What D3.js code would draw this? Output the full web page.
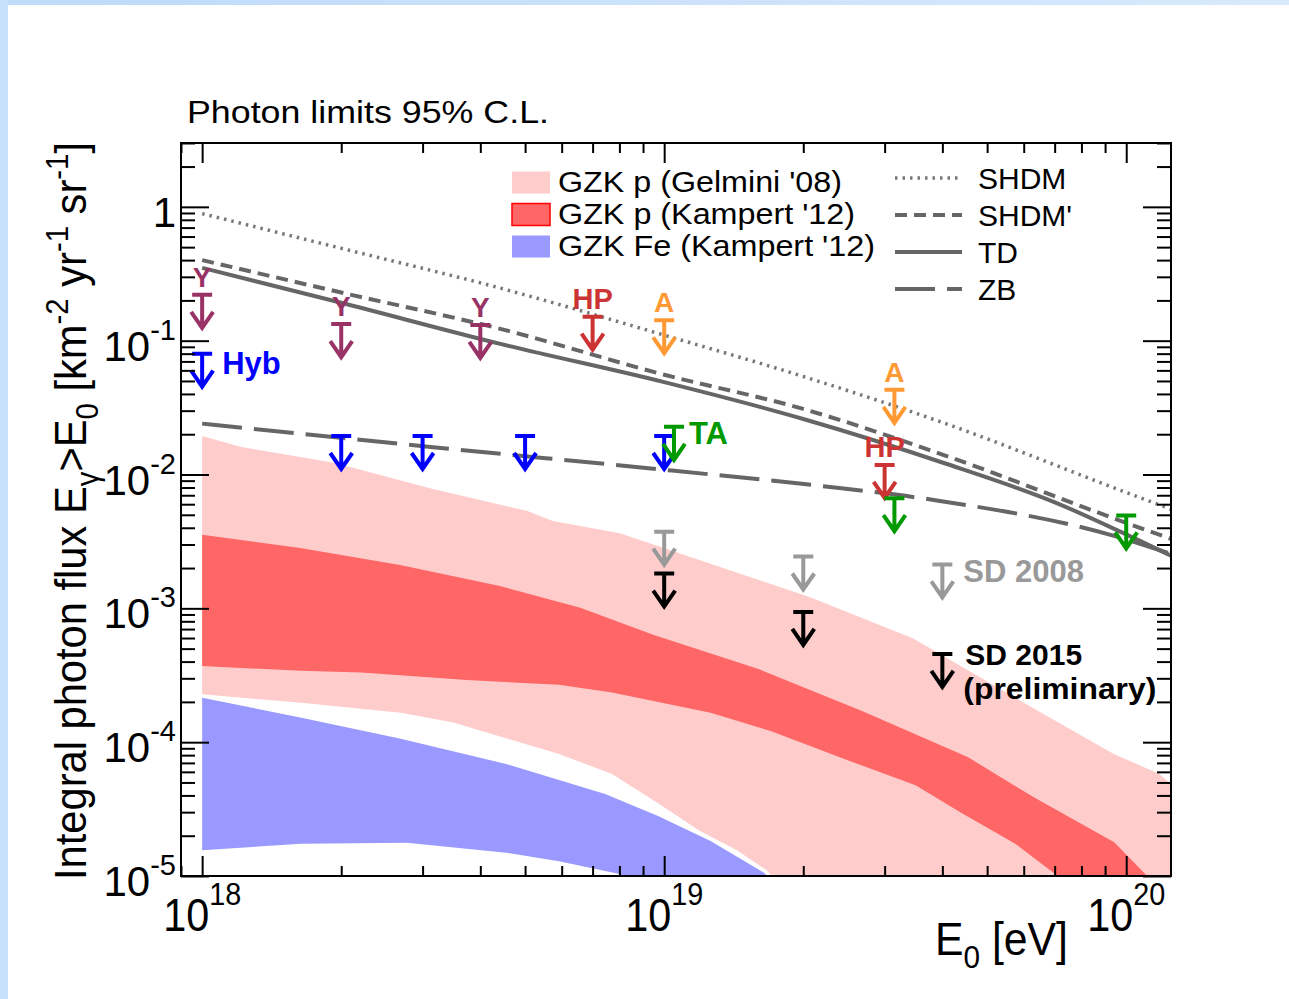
<!DOCTYPE html>
<html>
<head>
<meta charset="utf-8">
<script src="https://cdn.jsdelivr.net/npm/d3@7"></script>
<style>
  html, body { margin: 0; padding: 0; background: #fff; }
  svg { display: block; }
  text { font-family: "Liberation Sans", Arial, Helvetica, sans-serif; }
</style>
</head>
<body>
<svg id="chart" width="1289" height="999"></svg>
<script>
// Energies in eV, integral fluxes in km^-2 yr^-1 sr^-1

// GZK photon expectations (bands: upper and lower edges)
const gelminiUpperE = [1e18, 1.21e18, 1.92e18, 3.16e18, 5.04e18, 5.74e18, 8.02e18, 2.07e19, 3.46e19, 6.84e19, 9.4e19, 1.18e20, 1.25e20];
const gelminiUpperF = [1.94e-2, 1.61e-2, 1.23e-2, 7.8e-3, 5.35e-3, 4.5e-3, 3.64e-3, 1.21e-3, 5.94e-4, 1.52e-4, 8.17e-5, 5.78e-5, 4.87e-5];
const gelminiLowerE = [1e18, 1.64e18, 2.69e18, 3.5e18, 5.92e18, 7.71e18, 9.7e18, 1.19e19, 1.44e19, 1.67e19, 1.97e19, 1.25e20];
const gelminiLowerF = [2.28e-4, 1.97e-4, 1.66e-4, 1.40e-4, 8.17e-5, 5.78e-5, 3.49e-5, 2.19e-5, 1.55e-5, 1.10e-5, 5.5e-6, 1e-6];

const kampertPUpperE = [1e18, 1.63e18, 2.68e18, 4.41e18, 6.58e18, 9.5e18, 1.6e19, 2.68e19, 4.55e19, 6.31e19, 9.42e19, 1.11e20, 1.21e20];
const kampertPUpperF = [3.54e-3, 2.83e-3, 2.11e-3, 1.47e-3, 1.01e-3, 6.33e-4, 3.52e-4, 1.71e-4, 7.7e-5, 3.87e-5, 1.79e-5, 1e-5, 6e-6];
const kampertPLowerE = [1e18, 1.64e18, 2.21e18, 3.74e18, 5.92e18, 7.71e18, 1.26e19, 1.70e19, 2.52e19, 3.5e19, 4.41e19, 5.74e19, 6.98e19, 7.55e19];
const kampertPLowerF = [3.71e-4, 3.41e-4, 3.31e-4, 2.91e-4, 2.68e-4, 2.35e-4, 1.66e-4, 1.21e-4, 7.24e-5, 4.76e-5, 2.94e-5, 1.75e-5, 1.05e-5, 6.5e-6];

const kampertFeUpperE = [1e18, 1.64e18, 2.69e18, 4.55e18, 7.45e18, 9.7e18, 1.26e19, 1.65e19, 1.78e19];
const kampertFeUpperF = [2.15e-4, 1.52e-4, 1.06e-4, 6.87e-5, 4.10e-5, 2.81e-5, 1.83e-5, 1.05e-5, 7.1e-6];
const kampertFeLowerE = [1e18, 1.64e18, 2.77e18, 4.55e18, 5.92e18, 7.96e18, 9.3e18];
const kampertFeLowerF = [1.56e-5, 1.74e-5, 1.77e-5, 1.49e-5, 1.29e-5, 1.04e-5, 7.1e-6];

// Top-down model predictions
const shdmE = [1e18, 2e18, 4.4e18, 1e19, 2e19, 4e19, 1e20, 1.25e20];
const shdmF = [0.89, 0.49, 0.248, 0.11, 0.054, 0.0245, 0.00734, 0.0055];
const shdm2E = [1e18, 2e18, 4.4e18, 1e19, 2e19, 4e19, 1e20, 1.25e20];
const shdm2F = [0.40, 0.229, 0.123, 0.0557, 0.0309, 0.0141, 0.00435, 0.0033];
const tdE = [1e18, 2e18, 4.42e18, 1e19, 2e19, 4e19, 7.03e19, 9.84e19, 1.25e20];
const tdF = [0.35, 0.192, 0.0946, 0.049, 0.026, 0.0123, 0.00617, 0.00366, 0.00247];
const zbE = [1e18, 3.16e18, 1.04e19, 2.17e19, 3.95e19, 9.5e19, 1.25e20];
const zbF = [0.024, 0.016, 0.0107, 0.00824, 0.00635, 0.00345, 0.00255];

// Upper limits (95% C.L.)
const yakutskE = [1e18, 2e18, 4e18];
const yakutskLim = [0.22, 0.133, 0.131];
const hybridE = [1e18, 2e18, 3e18, 5e18, 1e19];
const hybridLim = [0.080, 0.0194, 0.0194, 0.0194, 0.0194];
const haverahE = [7e18, 3e19];
const haverahLim = [0.151, 0.0118];
const agasaE = [1e19, 3.15e19];
const agasaLim = [0.142, 0.0429];
const taE = [1.05e19, 3.15e19, 1e20];
const taLim = [0.0227, 0.00665, 0.00495];
const sd2008E = [1e19, 2e19, 4e19];
const sd2008Lim = [3.74e-3, 2.44e-3, 2.13e-3];
const sd2015E = [1e19, 2e19, 4e19];
const sd2015Lim = [1.82e-3, 9.4e-4, 4.56e-4];

// Axis tick labels (exponents of the major ticks)
const xExponents = [18, 19, 20];
const yExponents = [0, -1, -2, -3, -4, -5];

// Legend entries
const bandNames = ["GZK p (Gelmini '08)", "GZK p (Kampert '12)", "GZK Fe (Kampert '12)"];
const lineNames = ["SHDM", "SHDM'", "TD", "ZB"];

// ---------------------------------------------------------------
const svg = d3.select("#chart");
const L = 181, R = 1171, T = 143, B = 876;

const x = d3.scaleLog().domain([9e17, 1.25e20]).range([L, R]);
const y = d3.scaleLog().domain([1e-5, 3]).range([B, T]);

// Page decoration: light blue strips along the top and left edge
const defs = svg.append("defs");
const grad = defs.append("linearGradient").attr("id", "topStrip");
grad.append("stop").attr("offset", "0%").attr("stop-color", "#bedbf9");
grad.append("stop").attr("offset", "100%").attr("stop-color", "#d8e9fc");
svg.append("rect").attr("x", 0).attr("y", 0).attr("width", 1289).attr("height", 5).attr("fill", "url(#topStrip)");
svg.append("rect").attr("x", 0).attr("y", 0).attr("width", 8).attr("height", 999).attr("fill", "#c6e0fb");

defs.append("clipPath").attr("id", "plotClip")
  .append("rect").attr("x", L).attr("y", T).attr("width", R - L).attr("height", B - T);

const plot = svg.append("g").attr("clip-path", "url(#plotClip)");

const zip = (a, b) => a.map((v, i) => [v, b[i]]);
const poly = d3.line().x(d => x(d[0])).y(d => y(d[1]));
const smooth = d3.line().x(d => x(d[0])).y(d => y(d[1])).curve(d3.curveMonotoneX);

function band(upE, upF, loE, loF, fill) {
  const pts = zip(upE, upF).concat(zip(loE, loF).reverse());
  plot.append("path").attr("d", poly(pts) + "Z").attr("fill", fill).attr("stroke", "none");
}
band(gelminiUpperE, gelminiUpperF, gelminiLowerE, gelminiLowerF, "#ffcccc");
band(kampertPUpperE, kampertPUpperF, kampertPLowerE, kampertPLowerF, "#ff6666");
band(kampertFeUpperE, kampertFeUpperF, kampertFeLowerE, kampertFeLowerF, "#9999ff");

// Model curves
const lineStyles = [
  { E: shdmE, F: shdmF, dash: "2.5 5", w: 3.5, c: "#777777" },
  { E: shdm2E, F: shdm2F, dash: "12 7", w: 4, c: "#666666" },
  { E: tdE, F: tdF, dash: null, w: 4, c: "#666666" },
  { E: zbE, F: zbF, dash: "40 12", w: 4, c: "#666666" }
];
lineStyles.forEach(s => {
  plot.append("path").attr("d", smooth(zip(s.E, s.F)))
    .attr("fill", "none").attr("stroke", s.c).attr("stroke-width", s.w)
    .attr("stroke-dasharray", s.dash);
});

// Upper-limit arrows
function limits(E, lim, color) {
  const g = svg.append("g").attr("stroke", color).attr("stroke-width", 4)
    .attr("fill", "none").attr("stroke-linejoin", "miter");
  E.forEach((e, i) => {
    const cx = x(e), cy = y(lim[i]), tip = cy + 33;
    g.append("path").attr("d",
      `M${cx - 10},${cy}H${cx + 10}M${cx},${cy}V${tip - 1}M${cx - 11},${tip - 16}L${cx},${tip}L${cx + 11},${tip - 16}`);
  });
}
function tagAbove(E, lim, label, color, size) {
  E.forEach((e, i) => {
    svg.append("text").attr("x", x(e)).attr("y", y(lim[i]) - 8)
      .attr("text-anchor", "middle").attr("font-weight", "bold")
      .attr("font-size", size).attr("fill", color).text(label);
  });
}

limits(sd2008E, sd2008Lim, "#999999");
limits(sd2015E, sd2015Lim, "#000000");
limits(yakutskE, yakutskLim, "#993366");
limits(hybridE, hybridLim, "#0000ff");
limits(haverahE, haverahLim, "#cc3333");
limits(agasaE, agasaLim, "#ff9933");
limits(taE, taLim, "#009900");

tagAbove(yakutskE, yakutskLim, "Y", "#993366", 28);
tagAbove(haverahE, haverahLim, "HP", "#cc3333", 29);
tagAbove(agasaE, agasaLim, "A", "#ff9933", 28);

function tagRight(e, f, dx, dy, label, color) {
  return svg.append("text").attr("x", x(e) + dx).attr("y", y(f) + dy)
    .attr("font-weight", "bold").attr("font-size", 31).attr("fill", color).text(label);
}
tagRight(hybridE[0], hybridLim[0], 20, 20, "Hyb", "#0000ff");
tagRight(taE[0], taLim[0], 15, 17, "TA", "#009900");
tagRight(sd2008E[2], sd2008Lim[2], 21, 18, "SD 2008", "#999999");

// Two-line tag for the 2015 surface-detector limits
const sd15x = x(sd2015E[2]), sd15y = y(sd2015Lim[2]);
svg.append("text").attr("x", sd15x + 23).attr("y", sd15y + 11)
  .attr("font-weight", "bold").attr("font-size", 30).attr("fill", "#000").text("SD 2015");
svg.append("text").attr("x", sd15x + 21).attr("y", sd15y + 45)
  .attr("font-weight", "bold").attr("font-size", 30).attr("fill", "#000")
  .attr("textLength", 193).attr("lengthAdjust", "spacingAndGlyphs").text("(preliminary)");

// Axes: major and minor ticks on all four sides, pointing inward
const xMajor = xExponents.map(p => Math.pow(10, p));
const xMinor = x.ticks().filter(v => Math.abs(Math.log10(v) - Math.round(Math.log10(v))) > 1e-6);
const yMajor = yExponents.map(p => Math.pow(10, p));
const yMinor = y.ticks().filter(v => Math.abs(Math.log10(v) - Math.round(Math.log10(v))) > 1e-6);

function axisG(axis, tx, ty) {
  const g = svg.append("g").attr("transform", `translate(${tx},${ty})`).call(axis);
  g.select(".domain").remove();
  g.selectAll("line").attr("stroke", "#000").attr("stroke-width", 2);
  g.selectAll("text").remove();
}
axisG(d3.axisBottom(x).tickValues(xMajor).tickSize(-20).tickFormat(""), 0, B);
axisG(d3.axisBottom(x).tickValues(xMinor).tickSize(-10).tickFormat(""), 0, B);
axisG(d3.axisTop(x).tickValues(xMajor).tickSize(-20).tickFormat(""), 0, T);
axisG(d3.axisTop(x).tickValues(xMinor).tickSize(-10).tickFormat(""), 0, T);
axisG(d3.axisLeft(y).tickValues(yMajor).tickSize(-28).tickFormat(""), L, 0);
axisG(d3.axisLeft(y).tickValues(yMinor).tickSize(-14).tickFormat(""), L, 0);
axisG(d3.axisRight(y).tickValues(yMajor).tickSize(-28).tickFormat(""), R, 0);
axisG(d3.axisRight(y).tickValues(yMinor).tickSize(-14).tickFormat(""), R, 0);

// Frame
svg.append("rect").attr("x", L).attr("y", T).attr("width", R - L).attr("height", B - T)
  .attr("fill", "none").attr("stroke", "#000").attr("stroke-width", 2);

// X tick labels
xExponents.forEach(p => {
  const t = svg.append("text").attr("x", x(Math.pow(10, p))).attr("y", B + 55)
    .attr("text-anchor", "middle").attr("font-size", 46)
    .attr("textLength", 78).attr("lengthAdjust", "spacingAndGlyphs");
  t.append("tspan").text("10");
  t.append("tspan").attr("dy", -26).attr("font-size", 32).text(p);
});

// Y tick labels
yExponents.forEach(p => {
  const t = svg.append("text").attr("x", 176).attr("y", y(Math.pow(10, p)) + 20)
    .attr("text-anchor", "end").attr("font-size", 42);
  if (p === 0) {
    t.text("1");
  } else {
    t.append("tspan").text("10");
    t.append("tspan").attr("dy", -21).attr("font-size", 29).text(p);
  }
});

// Axis titles
const xt = svg.append("text").attr("x", 1068).attr("y", 955).attr("text-anchor", "end")
  .attr("font-size", 46).attr("textLength", 133).attr("lengthAdjust", "spacingAndGlyphs");
xt.append("tspan").text("E");
xt.append("tspan").attr("dy", 13).attr("font-size", 32).text("0");
xt.append("tspan").attr("dy", -13).text(" [eV]");

const yt = svg.append("text").attr("transform", "translate(86,511) rotate(-90)")
  .attr("text-anchor", "middle").attr("font-size", 44)
  .attr("textLength", 738).attr("lengthAdjust", "spacingAndGlyphs");
yt.append("tspan").text("Integral photon flux E");
yt.append("tspan").attr("dy", 12).attr("font-size", 31).text("γ");
yt.append("tspan").attr("dy", -12).text(">E");
yt.append("tspan").attr("dy", 12).attr("font-size", 31).text("0");
yt.append("tspan").attr("dy", -12).text(" [km");
yt.append("tspan").attr("dy", -18).attr("font-size", 31).text("-2");
yt.append("tspan").attr("dy", 18).text(" yr");
yt.append("tspan").attr("dy", -18).attr("font-size", 31).text("-1");
yt.append("tspan").attr("dy", 18).text(" sr");
yt.append("tspan").attr("dy", -18).attr("font-size", 31).text("-1");
yt.append("tspan").attr("dy", 18).text("]");

// Title
svg.append("text").attr("x", 187).attr("y", 123).attr("font-size", 32)
  .attr("textLength", 362).attr("lengthAdjust", "spacingAndGlyphs")
  .text("Photon limits 95% C.L.");

// Legend: bands
const bandFills = ["#ffcccc", "#ff6666", "#9999ff"];
const bandWidths = [284, 297, 317];
bandNames.forEach((name, i) => {
  const cy = 182.5 + i * 32;
  svg.append("rect").attr("x", 512).attr("y", cy - 11).attr("width", 38).attr("height", 22)
    .attr("fill", bandFills[i])
    .attr("stroke", i === 1 ? "#ff0000" : "none").attr("stroke-width", 1.5);
  svg.append("text").attr("x", 558).attr("y", cy + 9).attr("font-size", 29)
    .attr("textLength", bandWidths[i]).attr("lengthAdjust", "spacingAndGlyphs").text(name);
});

// Legend: model curves
lineNames.forEach((name, i) => {
  const cy = 178 + i * 37;
  const s = lineStyles[i];
  svg.append("line").attr("x1", 895).attr("x2", 962).attr("y1", cy).attr("y2", cy)
    .attr("stroke", s.c).attr("stroke-width", s.w).attr("stroke-dasharray", s.dash);
  svg.append("text").attr("x", 978).attr("y", cy + 11).attr("font-size", 30).text(name);
});
</script>
</body>
</html>
